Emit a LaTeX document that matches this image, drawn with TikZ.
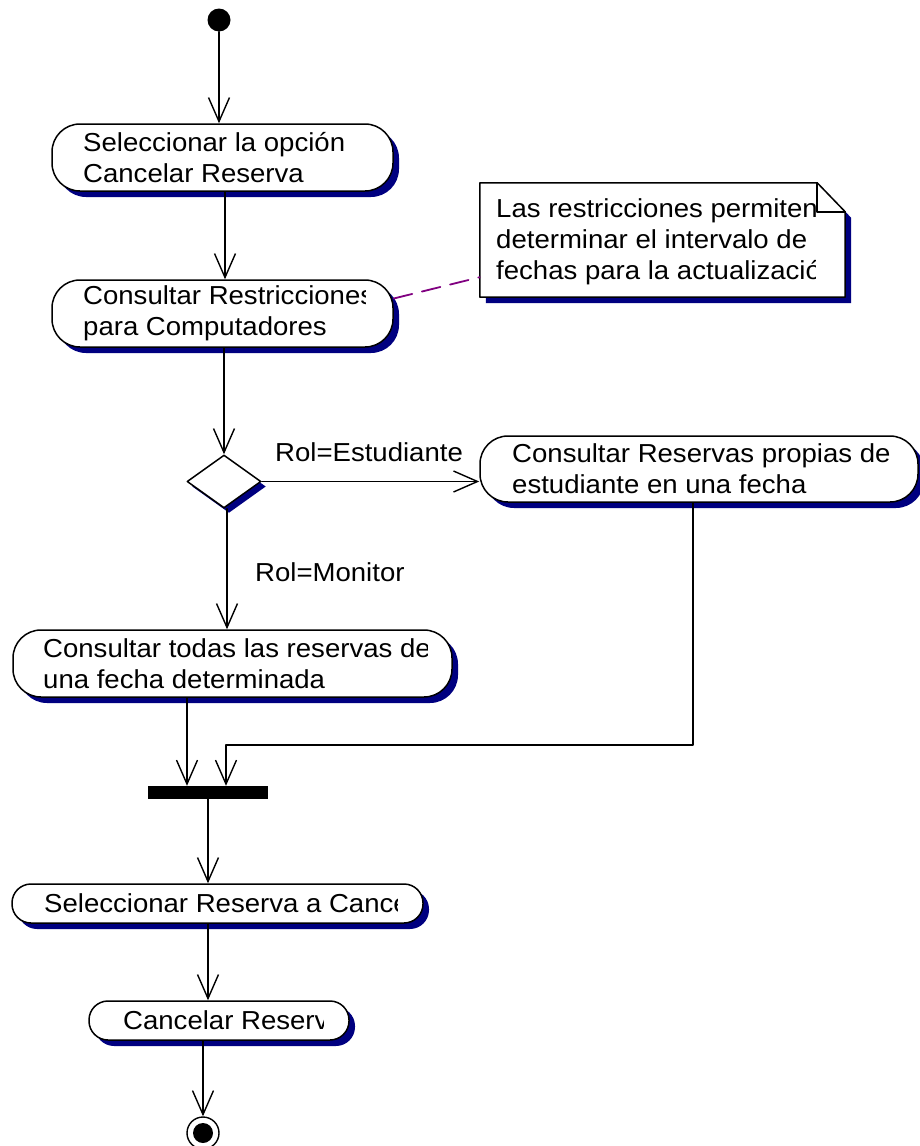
\documentclass[tikz,border=0pt]{standalone}
\usepackage{fontspec}
\setmainfont{Liberation Sans}[FakeStretch=1.06]
\usetikzlibrary{arrows.meta,calc,positioning,shapes.geometric,shadows}
\definecolor{roseNavy}{RGB}{0,0,128}
\definecolor{rosePurple}{RGB}{128,0,128}

\begin{document}
\begin{tikzpicture}[
  x=1pt, y=-1pt,
  line cap=round,
  line join=round,
  font=\fontsize{26}{31}\selectfont,
  flow/.style={-{Straight Barb[length=24pt,width=21pt]}, line width=1.4pt, draw=black},
  roseshadow/.style={drop shadow={shadow xshift=6pt, shadow yshift=-6pt, fill=roseNavy, opacity=1}},
  act/.style={draw=black, fill=white, line width=1.5pt, rounded corners=28pt, inner sep=0pt, roseshadow},
  actlow/.style={act, rounded corners=19pt},
  lbl/.style={anchor=west, align=left, inner sep=0pt},
  decision/.style={diamond, draw=black, fill=white, line width=1.5pt, inner sep=0pt,
    minimum width=74pt, minimum height=53pt,
    drop shadow={shadow xshift=5pt, shadow yshift=-5pt, fill=roseNavy, opacity=1}},
  syncbar/.style={fill=black, inner sep=0pt, minimum width=120pt, minimum height=13pt},
  guard/.style={anchor=west, inner sep=0pt},
  anchorline/.style={draw=rosePurple, line width=1.8pt, dash pattern=on 19pt off 10pt}
]

\useasboundingbox (0,0) rectangle (920,1146);

% Start and end states.
\node[circle, fill=black, inner sep=0pt, minimum size=23pt] (start) at (219,20) {};
\node[circle, draw=black, line width=1.4pt, fill=white, inner sep=0pt, minimum size=32pt] (final) at (203,1133) {};
\fill (final) circle[radius=10pt];

% Activity states.
\node[act, minimum width=341pt, minimum height=67pt] (act1) at (222.5,157.5) {};
\node[lbl] (act1txt) at (83,157.5) {Seleccionar la opción\\Cancelar Reserva};

\node[act, minimum width=341pt, minimum height=67pt] (act2) at (222.5,313.5) {};
\begin{scope}
  \clip (act2.north west) rectangle (365,347);
  \node[lbl] (act2txt) at (83,313.5) {Consultar Restricciones\\para Computadores};
\end{scope}

\node[act, minimum width=438pt, minimum height=66pt] (act3) at (699,469) {};
\node[lbl] (act3txt) at (512,469) {Consultar Reservas propias de\\estudiante en una fecha};

\node[act, minimum width=439pt, minimum height=67pt] (act4) at (232.5,663.5) {};
\begin{scope}
  \clip (act4.north west) rectangle (427,697);
  \node[lbl] (act4txt) at (43,663.5) {Consultar todas las reservas de\\una fecha determinada};
\end{scope}

\node[actlow, minimum width=411pt, minimum height=39pt] (act5) at (217.5,903.5) {};
\begin{scope}
  \clip (act5.north west) rectangle (397,923);
  \node[lbl] (act5txt) at (44,903.5) {Seleccionar Reserva a Cancelar};
\end{scope}

\node[actlow, minimum width=260pt, minimum height=39pt] (act6) at (219,1020.5) {};
\begin{scope}
  \clip (act6.north west) rectangle (323,1040);
  \node[lbl] (act6txt) at (123,1020.5) {Cancelar Reserva};
\end{scope}

% Decision and synchronisation bar.
\node[decision] (dec) at (224,481.5) {};
\node[syncbar] (bar) at (208,792.5) {};

% Note with folded corner.
\node[inner sep=0pt, minimum width=365pt, minimum height=114pt] (note) at (662.5,240) {};
\draw[fill=white, line width=1.5pt, roseshadow]
  (note.north west) -- ([xshift=-28pt]note.north east) -- ([yshift=-29pt]note.north east)
  -- (note.south east) -- (note.south west) -- cycle;
\draw[line width=1.5pt] ([xshift=-28pt]note.north east) |- ([yshift=-29pt]note.north east);
\begin{scope}
  \clip (note.north west) rectangle (815,297);
  \node[lbl] (notetxt) at (496,242)
    {Las restricciones permiten\\determinar el intervalo de\\fechas para la actualización};
\end{scope}
\draw[anchorline] (act2.5) -- ([yshift=20pt]note.south west);

% Transitions.
\coordinate (inL) at ([xshift=-21pt]bar.north);
\coordinate (inR) at ([xshift=18pt]bar.north);
\coordinate (bend) at (693,745);

\draw[flow] (start.south) -- (start |- act1.north);
\draw[flow] ([xshift=1pt]act1.south -| dec.north) -- ([xshift=1pt]act2.north -| dec.north);
\draw[flow] (act2.south -| dec.north) -- (dec.north);
\draw[flow] (dec.east) -- (dec.east -| act3.west);
\draw[flow] ([xshift=3pt]dec.south) -- ([xshift=3pt]dec.south |- act4.north);
\draw[flow] (act4.south -| inL) -- (inL);
\draw[flow] (act3.south -| bend) -- (bend) -| (inR);
\draw[flow] (bar.south) -- (bar.south |- act5.north);
\draw[flow] (act5.south -| bar.south) -- (act6.north -| bar.south);
\draw[flow] (act6.south -| final.north) -- (final.north);

% Guard labels.
\node[guard] (lblStud) at (275,452) {Rol=Estudiante};
\node[guard] (lblMon) at (255,572) {Rol=Monitor};

\end{tikzpicture}
\end{document}
